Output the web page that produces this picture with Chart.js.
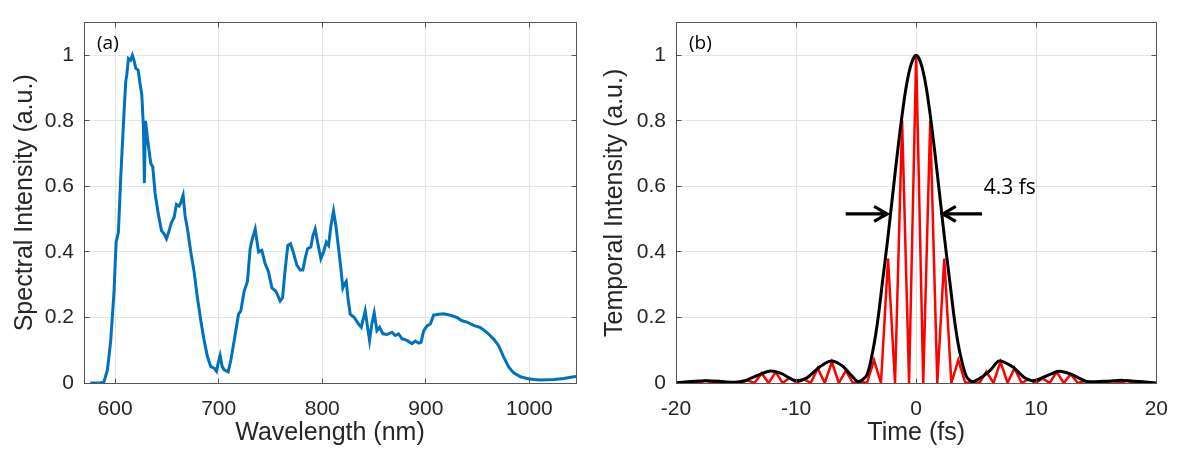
<!DOCTYPE html>
<html>
<head>
<meta charset="utf-8">
<script src="https://cdn.jsdelivr.net/npm/chart.js@4.4.0/dist/chart.umd.min.js"></script>
<style>
  body { margin:0; background:#fff; }
  #wrap { position:relative; width:1182px; height:454px; }
  canvas { position:absolute; top:0; }
  #spectrumChart { left:0; }
  #pulseChart { left:590px; }
</style>
</head>
<body>
<div id="wrap">
  <canvas id="spectrumChart" width="590" height="454"></canvas>
  <canvas id="pulseChart" width="592" height="454"></canvas>
</div>
<script>
// (a) spectrum
const wavelength = [
  576, 585, 589, 592.6, 595.8, 599, 601, 603.2, 605.5, 608.7,
  610.3, 611.3, 612.9, 615, 616.7, 618.3, 620, 622.3, 623.8, 625.8,
  627.4, 628.3, 629.3, 630.5, 631.9, 634.5, 636.4, 638.6, 641.5, 644.8,
  647.3, 649.6, 652.2, 654.4, 657, 659.2, 661.8, 663.4, 665.7, 667.6,
  669.9, 673.1, 676.3, 679.5, 682.8, 686, 689.2, 692.4, 695.7, 697.9,
  699.5, 701.4, 703.4, 705.3, 709.2, 711.8, 715, 719.2, 721.4, 724.6,
  727.8, 730.4, 732.5, 735.3, 738.5, 741.7, 744.9, 748.1, 751.4, 755.2,
  759.4, 761.7, 764.3, 766.8, 769.4, 772, 775.5, 778.7, 781.3, 783.5,
  785.8, 789, 791, 793.2, 795.8, 798.7, 801.3, 803.9, 806.1, 808.4,
  810.9, 813.2, 815.8, 818, 819.9, 821.2, 823.2, 824.8, 827, 830.9,
  835.1, 837.7, 841.5, 843.8, 845.7, 847.9, 850.2, 852.8, 855.4, 858.6,
  862.5, 867.3, 870.5, 873.7, 877, 881.8, 886.6, 889.9, 893.1, 895.4,
  897.9, 901.2, 904.4, 907.5, 912.4, 917.2, 923.6, 930, 934.9, 939.8,
  946.2, 952.7, 959.1, 965.5, 970.3, 975.2, 980, 984.8, 991.3, 997.8,
  1004, 1010.6, 1017, 1023.5, 1033.2, 1042.8, 1045
];
const spectralIntensity = [
  0, 0, 0.002, 0.039, 0.129, 0.28, 0.43, 0.46, 0.63, 0.83,
  0.92, 0.94, 0.99, 0.985, 1.0, 0.985, 0.96, 0.955, 0.92, 0.88,
  0.78, 0.61, 0.80, 0.77, 0.73, 0.67, 0.66, 0.58, 0.52, 0.465,
  0.455, 0.44, 0.465, 0.49, 0.505, 0.545, 0.54, 0.55, 0.573, 0.51,
  0.47, 0.40, 0.34, 0.26, 0.19, 0.13, 0.08, 0.05, 0.045, 0.036,
  0.06, 0.084, 0.05, 0.04, 0.034, 0.07, 0.13, 0.21, 0.22, 0.28,
  0.31, 0.41, 0.44, 0.47, 0.40, 0.405, 0.364, 0.34, 0.29, 0.28,
  0.25, 0.26, 0.35, 0.42, 0.425, 0.40, 0.36, 0.345, 0.345, 0.38,
  0.41, 0.415, 0.45, 0.47, 0.425, 0.38, 0.40, 0.43, 0.42, 0.48,
  0.525, 0.48, 0.41, 0.35, 0.29, 0.30, 0.31, 0.26, 0.21, 0.20,
  0.18, 0.17, 0.22, 0.17, 0.13, 0.18, 0.214, 0.16, 0.17, 0.15,
  0.148, 0.155, 0.145, 0.15, 0.135, 0.13, 0.12, 0.128, 0.122, 0.124,
  0.159, 0.174, 0.18, 0.207, 0.21, 0.211, 0.207, 0.20, 0.19, 0.186,
  0.176, 0.169, 0.154, 0.134, 0.114, 0.079, 0.049, 0.031, 0.019, 0.014,
  0.011, 0.009, 0.01, 0.011, 0.014, 0.019, 0.02
];
const wavelengthTicks = [600, 700, 800, 900, 1000];
const intensityTicks = [0, 0.2, 0.4, 0.6, 0.8, 1];

// (b) temporal profile: envelope (black) and intensity with carrier (red)
const envTime = [
  -20, -19, -17.3, -16, -15.1, -14.2, -13.5, -12.25, -11.3, -10.1,
  -9.13, -8.04, -7.09, -6.14, -5.32, -4.78, -4.1, -3.6, -3.2, -2.8,
  -2.4, -2.0, -1.6, -1.2, -0.8, -0.4, 0, 0.4, 0.8, 1.2,
  1.6, 2.0, 2.4, 2.8, 3.2, 3.6, 4.18, 4.73, 5.54, 6.2,
  6.9, 7.99, 9.07, 9.75, 10.7, 11.9, 12.9, 14.2, 15.6, 17.2,
  19.1, 20
];
const envIntensity = [
  0, 0.004, 0.007, 0.004, 0.002, 0.008, 0.019, 0.036, 0.03, 0.008,
  0.015, 0.049, 0.067, 0.052, 0.02, 0.004, 0.025, 0.10, 0.19, 0.31,
  0.43, 0.56, 0.69, 0.81, 0.91, 0.975, 1, 0.975, 0.91, 0.81,
  0.69, 0.56, 0.43, 0.31, 0.19, 0.10, 0.02, 0.004, 0.02, 0.04,
  0.067, 0.05, 0.015, 0.007, 0.019, 0.036, 0.027, 0.005, 0.005, 0.008,
  0.003, 0
];
const redTime = [
  -19.89, -19.31, -18.72, -18.14, -17.55, -16.97, -16.38, -15.80, -15.21, -14.63,
  -14.04, -13.46, -12.87, -12.29, -11.70, -11.12, -10.53, -9.95, -9.36, -8.78,
  -8.19, -7.61, -7.02, -6.44, -5.85, -5.27, -4.68, -4.10, -3.51, -2.93,
  -2.34, -1.76, -1.17, -0.59, 0, 0.59, 1.17, 1.76, 2.34, 2.93,
  3.51, 4.10, 4.68, 5.27, 5.85, 6.44, 7.02, 7.61, 8.19, 8.78,
  9.36, 9.95, 10.53, 11.12, 11.70, 12.29, 12.87, 13.46, 14.04, 14.63,
  15.21, 15.80, 16.38, 16.97, 17.55, 18.14, 18.72, 19.31, 19.89
];
const redIntensity = [
  0.001, 0, 0.005, 0, 0.008, 0, 0.005, 0, 0.002, 0,
  0.008, 0, 0.030, 0, 0.033, 0, 0.016, 0, 0.012, 0,
  0.045, 0, 0.064, 0, 0.038, 0, 0.005, 0, 0.070, 0,
  0.38, 0, 0.80, 0, 1.00, 0, 0.80, 0, 0.38, 0,
  0.070, 0, 0.004, 0, 0.035, 0, 0.065, 0, 0.045, 0,
  0.012, 0, 0.014, 0, 0.034, 0, 0.027, 0, 0.006, 0,
  0.004, 0, 0.006, 0, 0.007, 0, 0.004, 0, 0.001
];
const timeTicks = [-20, -10, 0, 10, 20];

// FWHM annotation (data units)
const arrowLevel = 0.516;
const leftArrow = [-5.87, -2.42];   // tail, tip
const rightArrow = [5.48, 2.22];
const fwhmLabel = {text: '4.3 fs', x: 5.62, y: 0.595};

const FONT = '"Liberation Sans", Arial, sans-serif';
const INK = '#262626';
const AXIS = '#555';
const GRID = '#e4e4e4';

const al = p => Math.round(p - 0.5) + 0.5;

// box on + inward tick marks + panel tag
const framePlugin = {
  id: 'frame',
  afterDraw(chart, args, opts) {
    const {ctx, chartArea: a, scales: {x, y}} = chart;
    const L = al(a.left), R = al(a.right), T = al(a.top), B = al(a.bottom);
    ctx.save();
    ctx.strokeStyle = AXIS;
    ctx.lineWidth = 1;
    ctx.strokeRect(L, T, R - L, B - T);
    ctx.beginPath();
    x.ticks.forEach(t => {
      const px = al(x.getPixelForValue(t.value));
      ctx.moveTo(px, B); ctx.lineTo(px, B - 5);
      ctx.moveTo(px, T); ctx.lineTo(px, T + 5);
    });
    y.ticks.forEach(t => {
      const py = al(y.getPixelForValue(t.value));
      ctx.moveTo(L, py); ctx.lineTo(L + 5, py);
      ctx.moveTo(R, py); ctx.lineTo(R - 5, py);
    });
    ctx.stroke();
    ctx.fillStyle = '#000';
    ctx.font = '19px "Open Sans"';
    ctx.textBaseline = 'middle';
    ctx.fillText(opts.tag, a.left + 13, a.top + 21);
    ctx.restore();
  }
};

function drawArrow(ctx, x0, x1, yy) {
  const d = Math.sign(x1 - x0);
  ctx.beginPath();
  ctx.moveTo(x0, yy); ctx.lineTo(x1, yy);
  ctx.moveTo(x1 - d * 13, yy - 7.5); ctx.lineTo(x1, yy); ctx.lineTo(x1 - d * 13, yy + 7.5);
  ctx.stroke();
}

const fwhmPlugin = {
  id: 'fwhm',
  afterDatasetsDraw(chart) {
    const {ctx, scales: {x, y}} = chart;
    const py = y.getPixelForValue(arrowLevel);
    ctx.save();
    ctx.strokeStyle = '#000';
    ctx.lineWidth = 3.2;
    drawArrow(ctx, x.getPixelForValue(leftArrow[0]), x.getPixelForValue(leftArrow[1]), py);
    drawArrow(ctx, x.getPixelForValue(rightArrow[0]), x.getPixelForValue(rightArrow[1]), py);
    ctx.fillStyle = '#000';
    ctx.font = '21px "Open Sans"';
    ctx.textBaseline = 'middle';
    ctx.fillText(fwhmLabel.text, x.getPixelForValue(fwhmLabel.x), y.getPixelForValue(fwhmLabel.y));
    ctx.restore();
  }
};

function scalesFor(xMin, xMax, xTicks, xTitle, yTitle, yWidth) {
  return {
    x: {
      type: 'linear', min: xMin, max: xMax, position: 'bottom',
      afterBuildTicks: s => { s.ticks = xTicks.map(v => ({value: v})); },
      afterFit: s => { s.height = 71; },
      ticks: { font: {family: FONT, size: 21}, color: INK, padding: 14, maxRotation: 0, autoSkip: false, callback: v => String(v) },
      grid: { color: GRID, drawTicks: false },
      border: { color: AXIS, width: 1 },
      title: { display: true, text: xTitle, color: INK, font: {family: FONT, size: 25}, padding: {top: 0, bottom: 6} }
    },
    y: {
      type: 'linear', min: 0, max: 1.1,
      afterBuildTicks: s => { s.ticks = intensityTicks.map(v => ({value: v})); },
      afterFit: s => { s.width = yWidth; },
      ticks: { font: {family: FONT, size: 21}, color: INK, padding: 10, callback: v => String(v) },
      grid: { color: GRID, drawTicks: false },
      border: { color: AXIS, width: 1 },
      title: { display: true, text: yTitle, color: INK, font: {family: FONT, size: 25}, padding: {top: 10, bottom: 0} }
    }
  };
}

const pairs = (xs, ys) => xs.map((v, i) => ({x: v, y: ys[i]}));

function renderSpectrum() {
  new Chart(document.getElementById('spectrumChart'), {
    type: 'line',
    data: {
      datasets: [{
        data: pairs(wavelength, spectralIntensity),
        borderColor: '#0072BD', borderWidth: 3, pointRadius: 0, tension: 0, borderJoin: 'round'
      }]
    },
    options: {
      responsive: false, animation: false,
      layout: { padding: {top: 17, right: 14, left: 0, bottom: 0} },
      plugins: { legend: {display: false}, tooltip: {enabled: false}, frame: {tag: '(a)'} },
      scales: scalesFor(570, 1045, wavelengthTicks, 'Wavelength (nm)', 'Spectral Intensity (a.u.)', 84)
    },
    plugins: [framePlugin]
  });
}

function renderPulse() {
  new Chart(document.getElementById('pulseChart'), {
    type: 'line',
    data: {
      datasets: [
        { data: pairs(envTime, envIntensity), borderColor: '#000', borderWidth: 3, pointRadius: 0, tension: 0.3, borderJoin: 'round' },
        { data: pairs(redTime, redIntensity), borderColor: '#ff0000', borderWidth: 2.5, pointRadius: 0, tension: 0, borderJoin: 'round' }
      ]
    },
    options: {
      responsive: false, animation: false,
      layout: { padding: {top: 17, right: 15, left: 0, bottom: 0} },
      plugins: { legend: {display: false}, tooltip: {enabled: false}, frame: {tag: '(b)'} },
      scales: scalesFor(-20, 20, timeTicks, 'Time (fs)', 'Temporal Intensity (a.u.)', 86)
    },
    plugins: [framePlugin, fwhmPlugin]
  });
}

renderSpectrum();
renderPulse();
</script>
</body>
</html>
